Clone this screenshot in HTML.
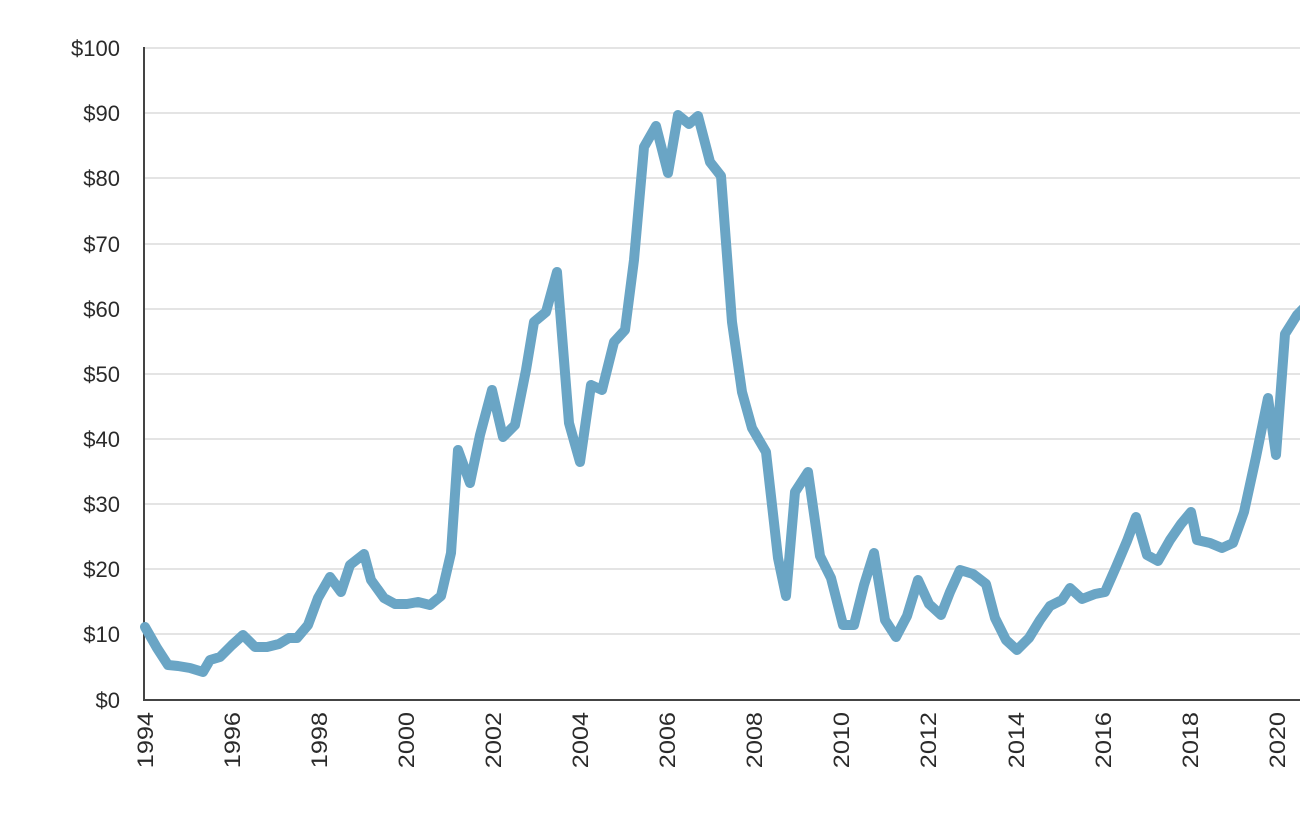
<!DOCTYPE html>
<html><head><meta charset="utf-8"><style>
html,body{margin:0;padding:0;background:#fff;}
svg{display:block;}
text{font-family:"Liberation Sans",sans-serif;fill:#2a2a2a;}
</style></head><body>
<svg width="1300" height="816" viewBox="0 0 1300 816" xmlns="http://www.w3.org/2000/svg">
<g stroke="#dcdcdc" stroke-width="1.5">
<line x1="144" y1="48" x2="1300" y2="48"/>
<line x1="144" y1="113" x2="1300" y2="113"/>
<line x1="144" y1="178" x2="1300" y2="178"/>
<line x1="144" y1="244" x2="1300" y2="244"/>
<line x1="144" y1="309" x2="1300" y2="309"/>
<line x1="144" y1="374" x2="1300" y2="374"/>
<line x1="144" y1="439" x2="1300" y2="439"/>
<line x1="144" y1="504" x2="1300" y2="504"/>
<line x1="144" y1="569" x2="1300" y2="569"/>
<line x1="144" y1="634" x2="1300" y2="634"/>
</g>
<line x1="144" y1="47" x2="144" y2="701" stroke="#444" stroke-width="2"/>
<line x1="143" y1="700" x2="1300" y2="700" stroke="#444" stroke-width="2"/>
<g font-size="22" text-anchor="end">
<text x="120" y="56">$100</text>
<text x="120" y="121">$90</text>
<text x="120" y="186">$80</text>
<text x="120" y="252">$70</text>
<text x="120" y="317">$60</text>
<text x="120" y="382">$50</text>
<text x="120" y="447">$40</text>
<text x="120" y="512">$30</text>
<text x="120" y="577">$20</text>
<text x="120" y="642">$10</text>
<text x="120" y="708">$0</text>
</g>
<g font-size="22" text-anchor="end">
<text transform="translate(153,712) rotate(-90) scale(1.15,1)">1994</text>
<text transform="translate(240,712) rotate(-90) scale(1.15,1)">1996</text>
<text transform="translate(327,712) rotate(-90) scale(1.15,1)">1998</text>
<text transform="translate(414,712) rotate(-90) scale(1.15,1)">2000</text>
<text transform="translate(501,712) rotate(-90) scale(1.15,1)">2002</text>
<text transform="translate(588,712) rotate(-90) scale(1.15,1)">2004</text>
<text transform="translate(675,712) rotate(-90) scale(1.15,1)">2006</text>
<text transform="translate(762,712) rotate(-90) scale(1.15,1)">2008</text>
<text transform="translate(849,712) rotate(-90) scale(1.15,1)">2010</text>
<text transform="translate(936,712) rotate(-90) scale(1.15,1)">2012</text>
<text transform="translate(1024,712) rotate(-90) scale(1.15,1)">2014</text>
<text transform="translate(1111,712) rotate(-90) scale(1.15,1)">2016</text>
<text transform="translate(1198,712) rotate(-90) scale(1.15,1)">2018</text>
<text transform="translate(1285,712) rotate(-90) scale(1.15,1)">2020</text>
</g>
<polyline fill="none" stroke="#6aa5c5" stroke-width="10" stroke-linejoin="round" stroke-linecap="round"
points="145,627 157,648 168,665 178,666 190,668 203,672 210,660 220,657 232,645 243,635 255,647 267,647 279,644 289,638 297,638 308,625 318,598 330,577 341,592 350,565 364,554 371,580 384,598 395,604 407,604 418,602 430,605 441,596 451,553 458,450 470,483 480,435 492,390 503,437 515,425 526,370 534,322 546,312 557,272 569,423 580,462 591,385 602,390 614,342 625,330 634,260 644,147 656,126 668,173 678,115 689,124 698,116 710,162 721,176 732,322 742,392 752,428 766,452 778,558 786,596 795,492 808,472 820,556 831,578 843,625 854,625 864,585 874,553 885,620 896,637 907,616 918,580 929,604 941,615 950,592 960,570 973,574 986,584 995,618 1006,640 1017,650 1029,638 1040,620 1050,606 1062,600 1070,588 1082,599 1095,594 1105,592 1116,567 1127,541 1136,517 1147,555 1158,561 1170,540 1181,524 1191,512 1197,540 1210,543 1222,548 1233,543 1244,512 1256,457 1268,398 1276,455 1285,334 1297,315 1304,308"/>
</svg>
</body></html>
